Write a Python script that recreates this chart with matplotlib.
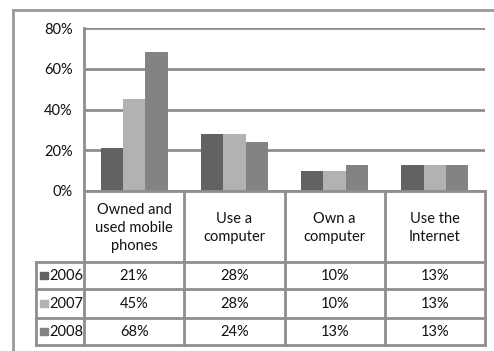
import numpy as np
import matplotlib
matplotlib.use("Agg")
import matplotlib.pyplot as plt
from matplotlib.lines import Line2D
from matplotlib.patches import Rectangle

plt.rcParams['font.family'] = ['Lato', 'DejaVu Sans']

categories = ["Owned and\nused mobile\nphones", "Use a\ncomputer", "Own a\ncomputer", "Use the\nInternet"]
years = ["2006", "2007", "2008"]
pct_2006 = [21, 28, 10, 13]
pct_2007 = [45, 28, 10, 13]
pct_2008 = [68, 24, 13, 13]
yticks = [0, 20, 40, 60, 80]

colors = ["#626262", "#b2b2b2", "#838383"]
grid_col = "#8e8e8e"
txt_col = "#111111"
fs = 10.5
W, H = 494, 351

fig = plt.figure(figsize=(W / 100, H / 100), dpi=100)
fig.patch.set_facecolor("white")

# plot area in pixel terms
left, right, top, bottom = 84, 485, 28, 191
ax = fig.add_axes([left / W, 1 - bottom / H, (right - left) / W, (bottom - top) / H])

series = [pct_2006, pct_2007, pct_2008]
x = np.arange(len(categories))
bw = 1 / 4.5
for k, vals in enumerate(series):
    ax.bar(x + (k - 1) * bw, vals, width=bw, color=colors[k], edgecolor="none", zorder=3)

ax.set_xlim(-0.5, len(categories) - 0.5)
ax.set_ylim(0, 80)
ax.set_yticks(yticks)
ax.set_yticklabels([f"{t}%" for t in yticks], fontsize=fs, color=txt_col)
ax.set_xticks([])
ax.tick_params(axis="y", length=0, pad=8)
ax.yaxis.grid(True, color=grid_col, linewidth=2, zorder=0)
for s in ["top", "right", "bottom"]:
    ax.spines[s].set_visible(False)
ax.spines["left"].set_color(grid_col)
ax.spines["left"].set_linewidth(2)

# overlay in pixel coordinates for the frame and data table
ov = fig.add_axes([0, 0, 1, 1], zorder=5)
ov.set_xlim(0, W)
ov.set_ylim(H, 0)
ov.axis("off")
ov.patch.set_alpha(0)

# outer chart frame (left and top edges)
ov.add_line(Line2D([13, 13], [10, H], color="#999999", lw=2))
ov.add_line(Line2D([13, W], [10, 10], color="#999999", lw=2))

rows_y = [191, 262, 289, 318, 345]
col_x = [left + (right - left) * i / len(categories) for i in range(len(categories) + 1)]
leg_left = 36

# horizontal table lines
ov.add_line(Line2D([left, right], [191, 191], color=grid_col, lw=2))
for yy in rows_y[1:]:
    ov.add_line(Line2D([leg_left, right], [yy, yy], color=grid_col, lw=2))
# vertical table lines
for xx in col_x:
    ov.add_line(Line2D([xx, xx], [191, 345], color=grid_col, lw=2))
ov.add_line(Line2D([leg_left, leg_left], [262, 345], color=grid_col, lw=2))

# header text
for i, name in enumerate(categories):
    cx = (col_x[i] + col_x[i + 1]) / 2
    ov.text(cx, 228, name, ha="center", va="center", fontsize=fs,
            color=txt_col, linespacing=1.4)

# value rows with legend keys
for r, (yr, vals) in enumerate(zip(years, series)):
    cy = (rows_y[r + 1] + rows_y[r + 2]) / 2
    ov.add_patch(Rectangle((40, cy - 4), 7.5, 7.5, color=colors[r]))
    ov.text(49, cy, yr, ha="left", va="center", fontsize=fs, color=txt_col)
    for i, v in enumerate(vals):
        cx = (col_x[i] + col_x[i + 1]) / 2
        ov.text(cx, cy, f"{v}%", ha="center", va="center", fontsize=fs, color=txt_col)

fig.savefig("out.png", dpi=100)
